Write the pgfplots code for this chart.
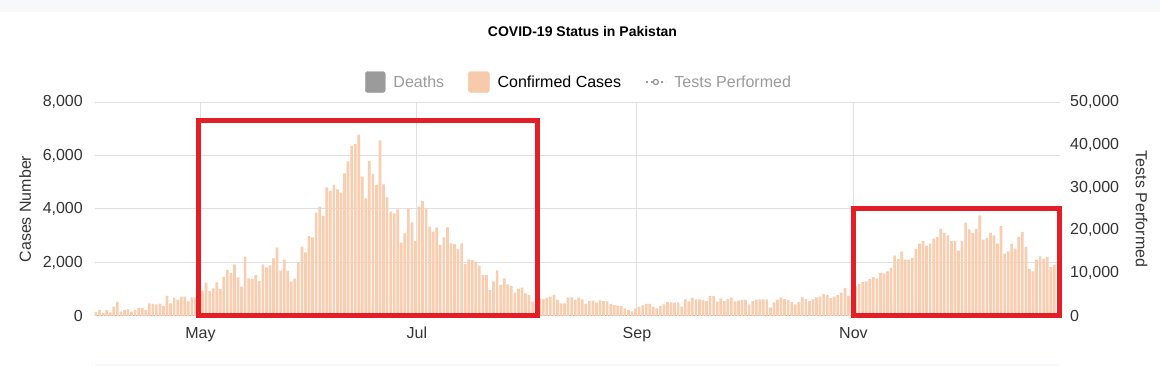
\documentclass[border=0pt]{standalone}
\usepackage{pgfplots}
\pgfplotsset{compat=1.18}
\usepackage{pgfplotstable}
\usepackage{fontspec}
\setmainfont{Liberation Sans}
\definecolor{peach}{HTML}{F8CDB0}
\definecolor{gridc}{HTML}{E0E0E0}
\definecolor{zeroc}{HTML}{A8A8A8}
\definecolor{txt}{HTML}{333333}
\definecolor{leggray}{HTML}{9A9A9A}
\definecolor{boxgray}{HTML}{9B9B9B}
\definecolor{legpeach}{HTML}{F7CAAC}
\definecolor{annred}{HTML}{E41E26}
\definecolor{topband}{HTML}{F7F8FA}

\pgfplotstableread{
x y
0 150
1 225
2 125
3 225
4 140
5 350
6 535
7 160
8 225
9 250
10 160
11 225
12 300
13 300
14 225
15 475
16 450
17 435
18 460
19 375
20 750
21 475
22 685
23 600
24 720
25 720
26 550
27 700
28 700
29 850
30 950
31 1250
32 935
33 1035
34 1260
35 1000
36 1470
37 1720
38 1600
39 1930
40 1445
41 1100
42 2220
43 1410
44 1395
45 1530
46 1310
47 1930
48 1820
49 1895
50 2155
51 2555
52 1695
53 2105
54 1695
55 1285
56 1395
57 2005
58 2590
59 2380
60 2990
61 2940
62 3860
63 4085
64 3740
65 4810
66 4685
67 4900
68 4730
69 4610
70 5330
71 5780
72 6350
73 6430
74 6780
75 5210
76 4400
77 5800
78 5310
79 4900
80 6570
81 4920
82 4435
83 3900
84 3840
85 3990
86 2740
87 3090
88 4025
89 3500
90 2800
91 4085
92 4300
93 4025
94 3340
95 3150
96 3310
97 2650
98 2940
99 3310
100 2715
101 2690
102 2505
103 2715
104 1945
105 2120
106 2090
107 2030
108 1880
109 1530
110 1530
111 970
112 1285
113 1705
114 1160
115 1410
116 1185
117 1120
118 870
119 1020
120 1060
121 850
122 785
123 535
124 550
125 650
126 635
127 685
128 720
129 785
130 600
131 475
132 475
133 700
134 700
135 600
136 683
137 620
138 450
139 560
140 570
141 500
142 585
143 560
144 545
145 450
146 410
147 385
148 370
149 285
150 225
151 175
152 275
153 350
154 400
155 450
156 450
157 350
158 285
159 370
160 435
161 520
162 510
163 500
164 510
165 350
166 635
167 545
168 685
169 620
170 620
171 600
172 560
173 745
174 745
175 535
176 660
177 560
178 635
179 685
180 545
181 570
182 600
183 600
184 435
185 560
186 610
187 620
188 620
189 620
190 325
191 510
192 600
193 685
194 635
195 600
196 520
197 435
198 520
199 695
200 635
201 560
202 625
203 700
204 727
205 815
206 790
207 665
208 727
209 777
210 878
211 1040
212 752
213 1000
214 1104
215 1204
216 1267
217 1292
218 1380
219 1455
220 1405
221 1605
222 1593
223 1668
224 1793
225 2257
226 2132
227 2408
228 2107
229 2107
230 2169
231 2508
232 2709
233 2796
234 2633
235 2709
236 2897
237 2959
238 3260
239 3110
240 3010
241 2796
242 2796
243 2445
244 2796
245 3486
246 3235
247 3110
248 3260
249 3762
250 2859
251 2922
252 3110
253 3010
254 2709
255 3361
256 2332
257 2420
258 2696
259 2521
260 2959
261 3148
262 2571
263 1756
264 1668
265 2107
266 2232
267 2144
268 2207
269 1831
270 1919
}\cases

\begin{document}
\begin{tikzpicture}
\useasboundingbox (0pt,0pt) rectangle (1160pt,366pt);
\fill[topband] (0pt,354pt) rectangle (1160pt,366pt);
\fill[topband] (95pt,0pt) rectangle (1060pt,2pt);
\node[font=\bfseries\fontsize{14}{16}\selectfont, text=black] at (582.5pt,334pt) {COVID-19 Status in Pakistan};

\begin{axis}[
  at={(95pt,50pt)}, anchor=south west,
  scale only axis, width=965pt, height=214pt,
  xmin=-0.3, xmax=271.6, ymin=0, ymax=8000,
  clip=false,
  axis line style={draw=none},
  major tick length=0pt,
  ytick={0,2000,4000,6000,8000},
  xtick={29.4,90.4,152.4,213.4},
  xticklabels={May,Jul,Sep,Nov},
  ymajorgrids, xmajorgrids,
  grid style={gridc, line width=1pt},
  scaled y ticks=false,
  /pgf/number format/.cd, 1000 sep={,}, assume math mode=true,
  /pgfplots/.cd,
  ticklabel style={font=\fontsize{16}{19}\selectfont, text=txt},
  yticklabel style={inner sep=0pt, xshift=-12pt},
  xticklabel style={inner sep=0pt, yshift=-11pt},
  ylabel={Cases Number},
  ylabel style={at={(axis description cs:-0.0725,0.5)}, anchor=center, font=\fontsize{16}{19}\selectfont, text=txt},
  legend style={at={(axis description cs:0.5,1)}, anchor=center, yshift=20pt, xshift=1.5pt,
    draw=none, fill=none, legend columns=3, font=\fontsize{16}{19}\selectfont,
    /tikz/every even column/.append style={column sep=22pt},
    /tikz/every odd column/.append style={column sep=6pt}},
  legend cell align=left,
]
\addlegendimage{legend image code/.code={\fill[boxgray, rounded corners=2.5pt] (0pt,-10.5pt) rectangle (20pt,10.5pt);}}
\addlegendentry{\textcolor{leggray}{Deaths}}
\addlegendimage{legend image code/.code={\fill[legpeach, rounded corners=2.5pt] (0pt,-10.5pt) rectangle (21pt,10.5pt);}}
\addlegendentry{\textcolor{black}{Confirmed Cases}}
\addlegendimage{legend image code/.code={\draw[leggray, line width=1.3pt, dash pattern=on 2.5pt off 2.5pt] (0pt,0pt)--(20pt,0pt); \draw[leggray, line width=1.3pt, fill=white] (10pt,0pt) circle (2.6pt);}}
\addlegendentry{\textcolor{leggray}{Tests Performed}}

\draw[zeroc, line width=1pt] (rel axis cs:0,0) -- (rel axis cs:1,0);
\addplot[ybar, bar width=2.7pt, bar shift=0pt, fill=peach, draw=none, forget plot] table[x=x,y=y] {\cases};

\draw[annred, line width=5pt] (axis cs:29,0) rectangle (axis cs:124.5,7290);
\draw[annred, line width=5pt] (axis cs:213.3,37) rectangle (axis cs:271.5,4000);
\end{axis}

\begin{axis}[
  at={(95pt,50pt)}, anchor=south west,
  scale only axis, width=965pt, height=214pt,
  xmin=-0.3, xmax=271.6, ymin=0, ymax=50000,
  axis x line=none,
  axis y line*=right,
  axis line style={draw=none},
  major tick length=0pt,
  ytick={0,10000,20000,30000,40000,50000},
  scaled y ticks=false,
  /pgf/number format/.cd, 1000 sep={,}, assume math mode=true,
  /pgfplots/.cd,
  ticklabel style={font=\fontsize{16}{19}\selectfont, text=txt},
  yticklabel style={inner sep=0pt, xshift=10pt},
  ylabel={Tests Performed},
  ylabel style={at={(axis description cs:1.0845,0.5)}, anchor=center, rotate=180, font=\fontsize{16}{19}\selectfont, text=txt},
]
\addplot[draw=none, forget plot] coordinates {(0,0)};
\end{axis}
\end{tikzpicture}
\end{document}
